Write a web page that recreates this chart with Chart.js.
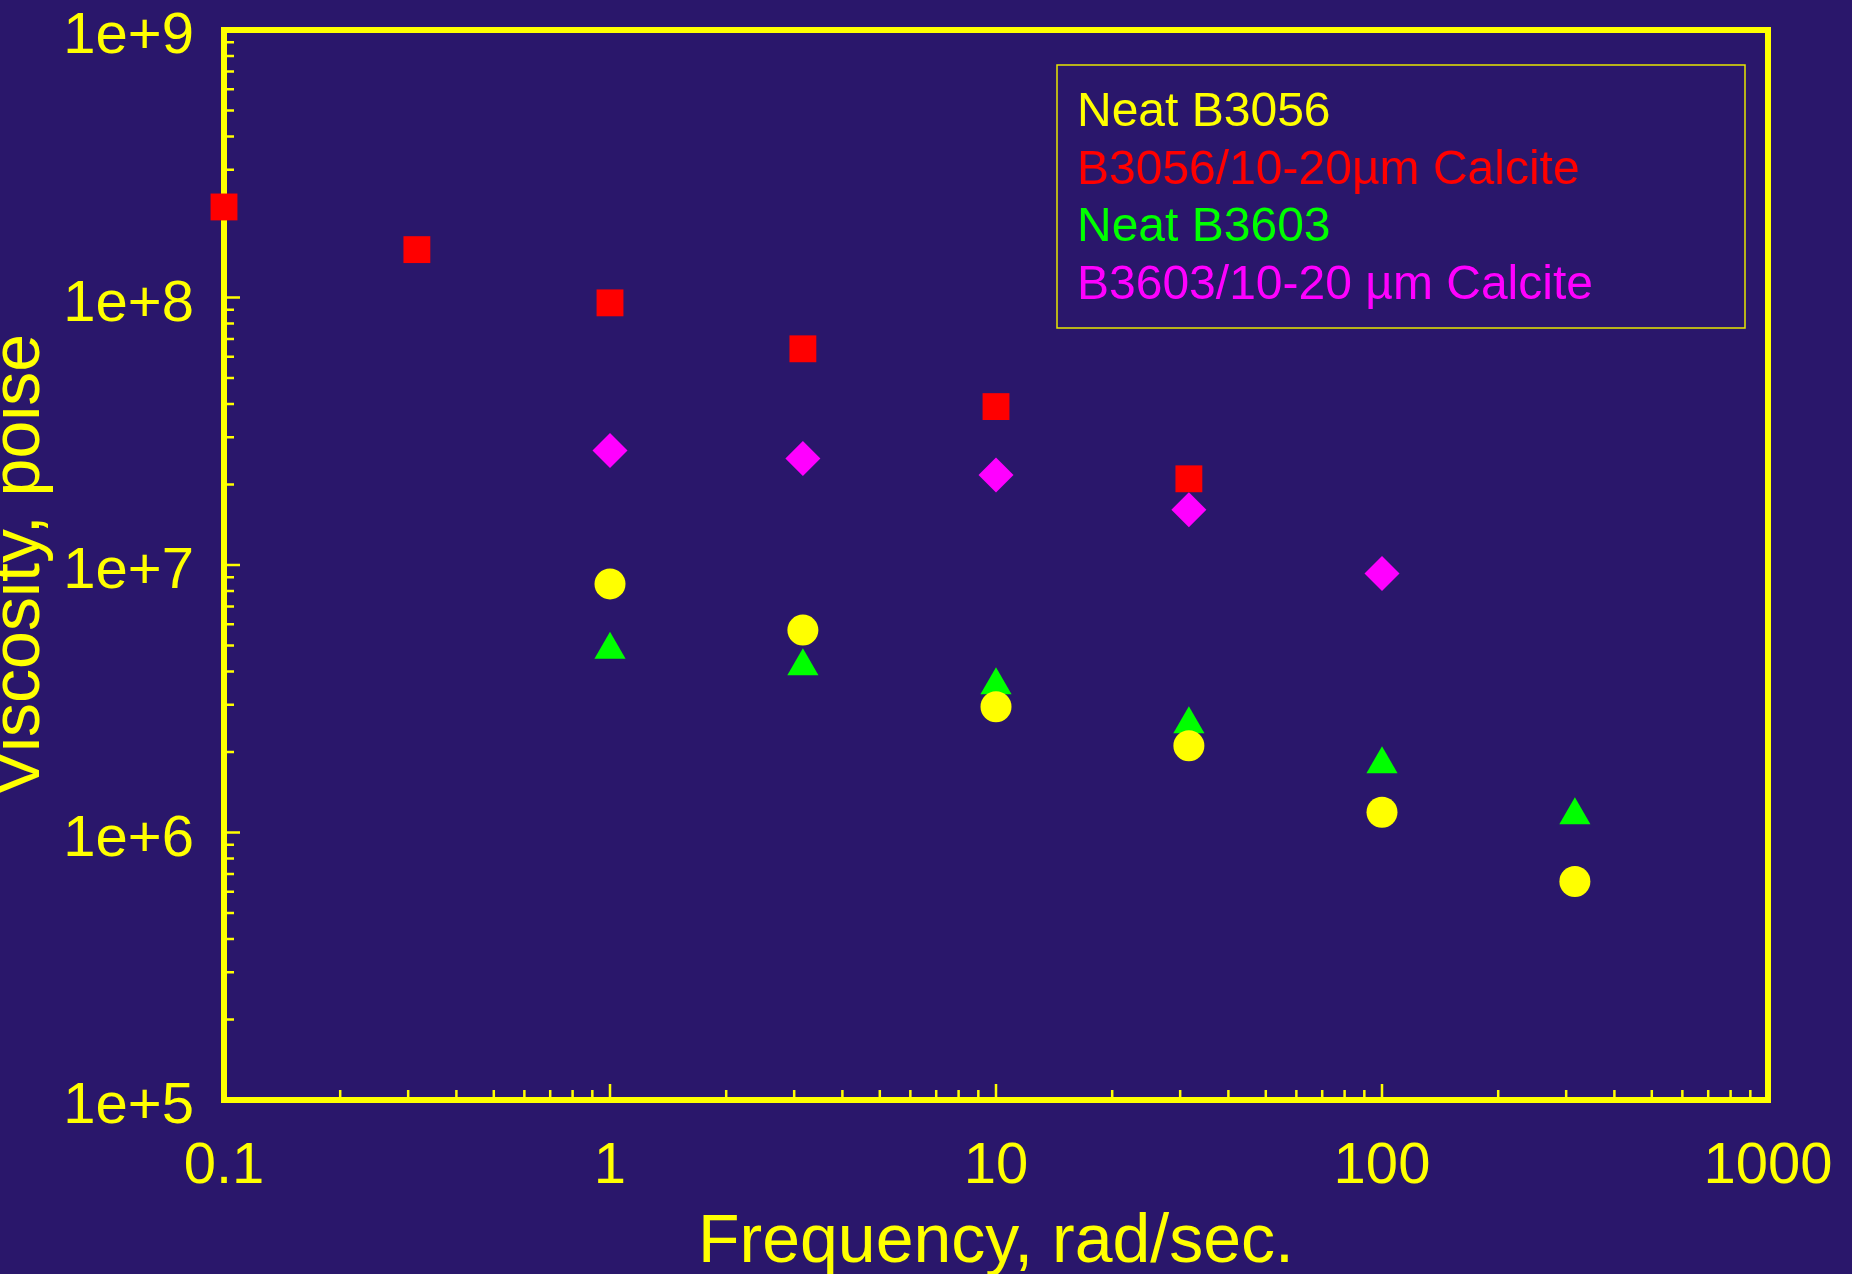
<!DOCTYPE html>
<html>
<head>
<meta charset="utf-8">
<title>Viscosity vs Frequency</title>
<script src="https://cdn.jsdelivr.net/npm/chart.js@4.4.0/dist/chart.umd.min.js"></script>
<style>
  html, body { margin: 0; padding: 0; background: #2a176b; overflow: hidden; }
  canvas { display: block; }
</style>
</head>
<body>
<canvas id="myChart" width="1852" height="1274"></canvas>
<script>
"use strict";

// tick labels
var freqTicks = [0.1, 1, 10, 100, 1000];
var viscTicks = [1e5, 1e6, 1e7, 1e8, 1e9];

// B3056 / calcite (red squares)
var freqRed = [0.1, 0.316, 1, 3.16, 10, 31.6];
var calcite3056 = [2.18e8, 1.51e8, 9.55e7, 6.43e7, 3.91e7, 2.10e7];

// B3603 / calcite (magenta diamonds)
var freqMagenta = [1, 3.16, 10, 31.6, 100];
var calcite3603 = [2.68e7, 2.50e7, 2.17e7, 1.61e7, 9.3e6];

// neat binders (yellow circles, green triangles)
var freqNeat = [1, 3.16, 10, 31.6, 100, 316];
var neat3056 = [8.5e6, 5.71e6, 2.95e6, 2.11e6, 1.19e6, 6.56e5];
var neat3603 = [4.82e6, 4.18e6, 3.55e6, 2.54e6, 1.80e6, 1.16e6];

var yellow = '#ffff00';

function toPoints(xs, ys) {
    var pts = [];
    for (var i = 0; i < xs.length; i++) {
        pts.push({x: xs[i], y: ys[i]});
    }
    return pts;
}

// frame and inward log ticks, drawn under the markers
var framePlugin = {
    id: 'frame',
    beforeDatasetsDraw: function(chart) {
        var ctx = chart.ctx;
        var a = chart.chartArea;
        var xs = chart.scales.x;
        var ys = chart.scales.y;
        ctx.save();
        ctx.strokeStyle = yellow;
        ctx.lineWidth = 2.5;
        ctx.beginPath();
        for (var e = -1; e < 3; e++) {
            for (var m = 1; m < 10; m++) {
                var px = xs.getPixelForValue(m * Math.pow(10, e));
                var len = m == 1 ? 16 : 10;
                ctx.moveTo(px, a.bottom);
                ctx.lineTo(px, a.bottom - len);
            }
        }
        for (var e2 = 5; e2 < 9; e2++) {
            for (var m2 = 1; m2 < 10; m2++) {
                var py = ys.getPixelForValue(m2 * Math.pow(10, e2));
                var len2 = m2 == 1 ? 16 : 10;
                ctx.moveTo(a.left, py);
                ctx.lineTo(a.left + len2, py);
            }
        }
        ctx.stroke();
        ctx.lineWidth = 6;
        ctx.strokeRect(a.left, a.top, a.right - a.left, a.bottom - a.top);
        ctx.restore();
    }
};

// boxed text legend inside the plot
var boxLegend = {
    id: 'boxLegend',
    afterDraw: function(chart) {
        var ctx = chart.ctx;
        ctx.save();
        ctx.strokeStyle = '#e8e800';
        ctx.lineWidth = 1.5;
        ctx.strokeRect(1057, 65, 688, 263);
        ctx.font = '48px "Liberation Sans", Arial, sans-serif';
        ctx.textBaseline = 'alphabetic';
        ctx.textAlign = 'left';
        var ds = chart.data.datasets;
        for (var i = 0; i < ds.length; i++) {
            ctx.fillStyle = ds[i].backgroundColor;
            ctx.fillText(ds[i].label, 1077, 126 + i * 57.5);
        }
        ctx.restore();
    }
};

var fontFamily = '"Liberation Sans", Arial, sans-serif';

var ctx1 = document.getElementById('myChart').getContext('2d');

var viscChart = new Chart(ctx1, {
    type: 'scatter',
    data: {
        datasets: [
            {
                label: 'Neat B3056',
                data: toPoints(freqNeat, neat3056),
                backgroundColor: '#ffff00',
                borderColor: '#ffff00',
                pointStyle: 'circle',
                pointRadius: 15.5,
                borderWidth: 0,
                clip: false
            },
            {
                label: 'B3056/10-20µm Calcite',
                data: toPoints(freqRed, calcite3056),
                backgroundColor: '#ff0000',
                borderColor: '#ff0000',
                pointStyle: 'rect',
                pointRadius: 19,
                borderWidth: 0,
                clip: false
            },
            {
                label: 'Neat B3603',
                data: toPoints(freqNeat, neat3603),
                backgroundColor: '#00ff00',
                borderColor: '#00ff00',
                pointStyle: 'triangle',
                pointRadius: 18,
                borderWidth: 0,
                clip: false
            },
            {
                label: 'B3603/10-20 µm Calcite',
                data: toPoints(freqMagenta, calcite3603),
                backgroundColor: '#ff00ff',
                borderColor: '#ff00ff',
                pointStyle: 'rectRot',
                pointRadius: 17.5,
                borderWidth: 0,
                clip: false
            }
        ]
    },
    options: {
        responsive: false,
        animation: false,
        layout: { padding: { top: 30, right: 84, left: 0, bottom: 0 } },
        plugins: {
            legend: { display: false },
            tooltip: { enabled: false }
        },
        scales: {
            x: {
                type: 'logarithmic',
                position: 'bottom',
                min: 0.1,
                max: 1000,
                afterBuildTicks: function(scale) {
                    scale.ticks = freqTicks.map(function(v){ return {value: v}; });
                },
                afterFit: function(scale) {
                    scale.height = 174;
                    scale.paddingLeft = 0;
                    scale.paddingRight = 0;
                },
                grid: { display: false, drawTicks: false },
                border: { display: false },
                ticks: {
                    color: yellow,
                    font: { family: fontFamily, size: 58 },
                    padding: 32,
                    maxRotation: 0,
                    autoSkip: false,
                    callback: function(v) { return String(v); }
                },
                title: {
                    display: true,
                    text: 'Frequency, rad/sec.',
                    color: yellow,
                    font: { family: fontFamily, size: 68, lineHeight: 0.44 },
                    padding: { top: 0, bottom: 16 }
                }
            },
            y: {
                type: 'logarithmic',
                position: 'left',
                min: 1e5,
                max: 1e9,
                afterBuildTicks: function(scale) {
                    scale.ticks = viscTicks.map(function(v){ return {value: v}; });
                },
                afterFit: function(scale) {
                    scale.width = 224;
                    scale.paddingTop = 0;
                    scale.paddingBottom = 0;
                },
                grid: { display: false, drawTicks: false },
                border: { display: false },
                ticks: {
                    color: yellow,
                    font: { family: fontFamily, size: 58 },
                    padding: 30,
                    labelOffset: 7,
                    autoSkip: false,
                    callback: function(v) { return '1e+' + Math.round(Math.log10(v)); }
                },
                title: {
                    display: true,
                    text: 'Viscosity, poise',
                    color: yellow,
                    font: { family: fontFamily, size: 68, lineHeight: 0.44 },
                    padding: { top: 5, bottom: 0 }
                }
            }
        }
    },
    plugins: [framePlugin, boxLegend]
});
</script>
</body>
</html>
